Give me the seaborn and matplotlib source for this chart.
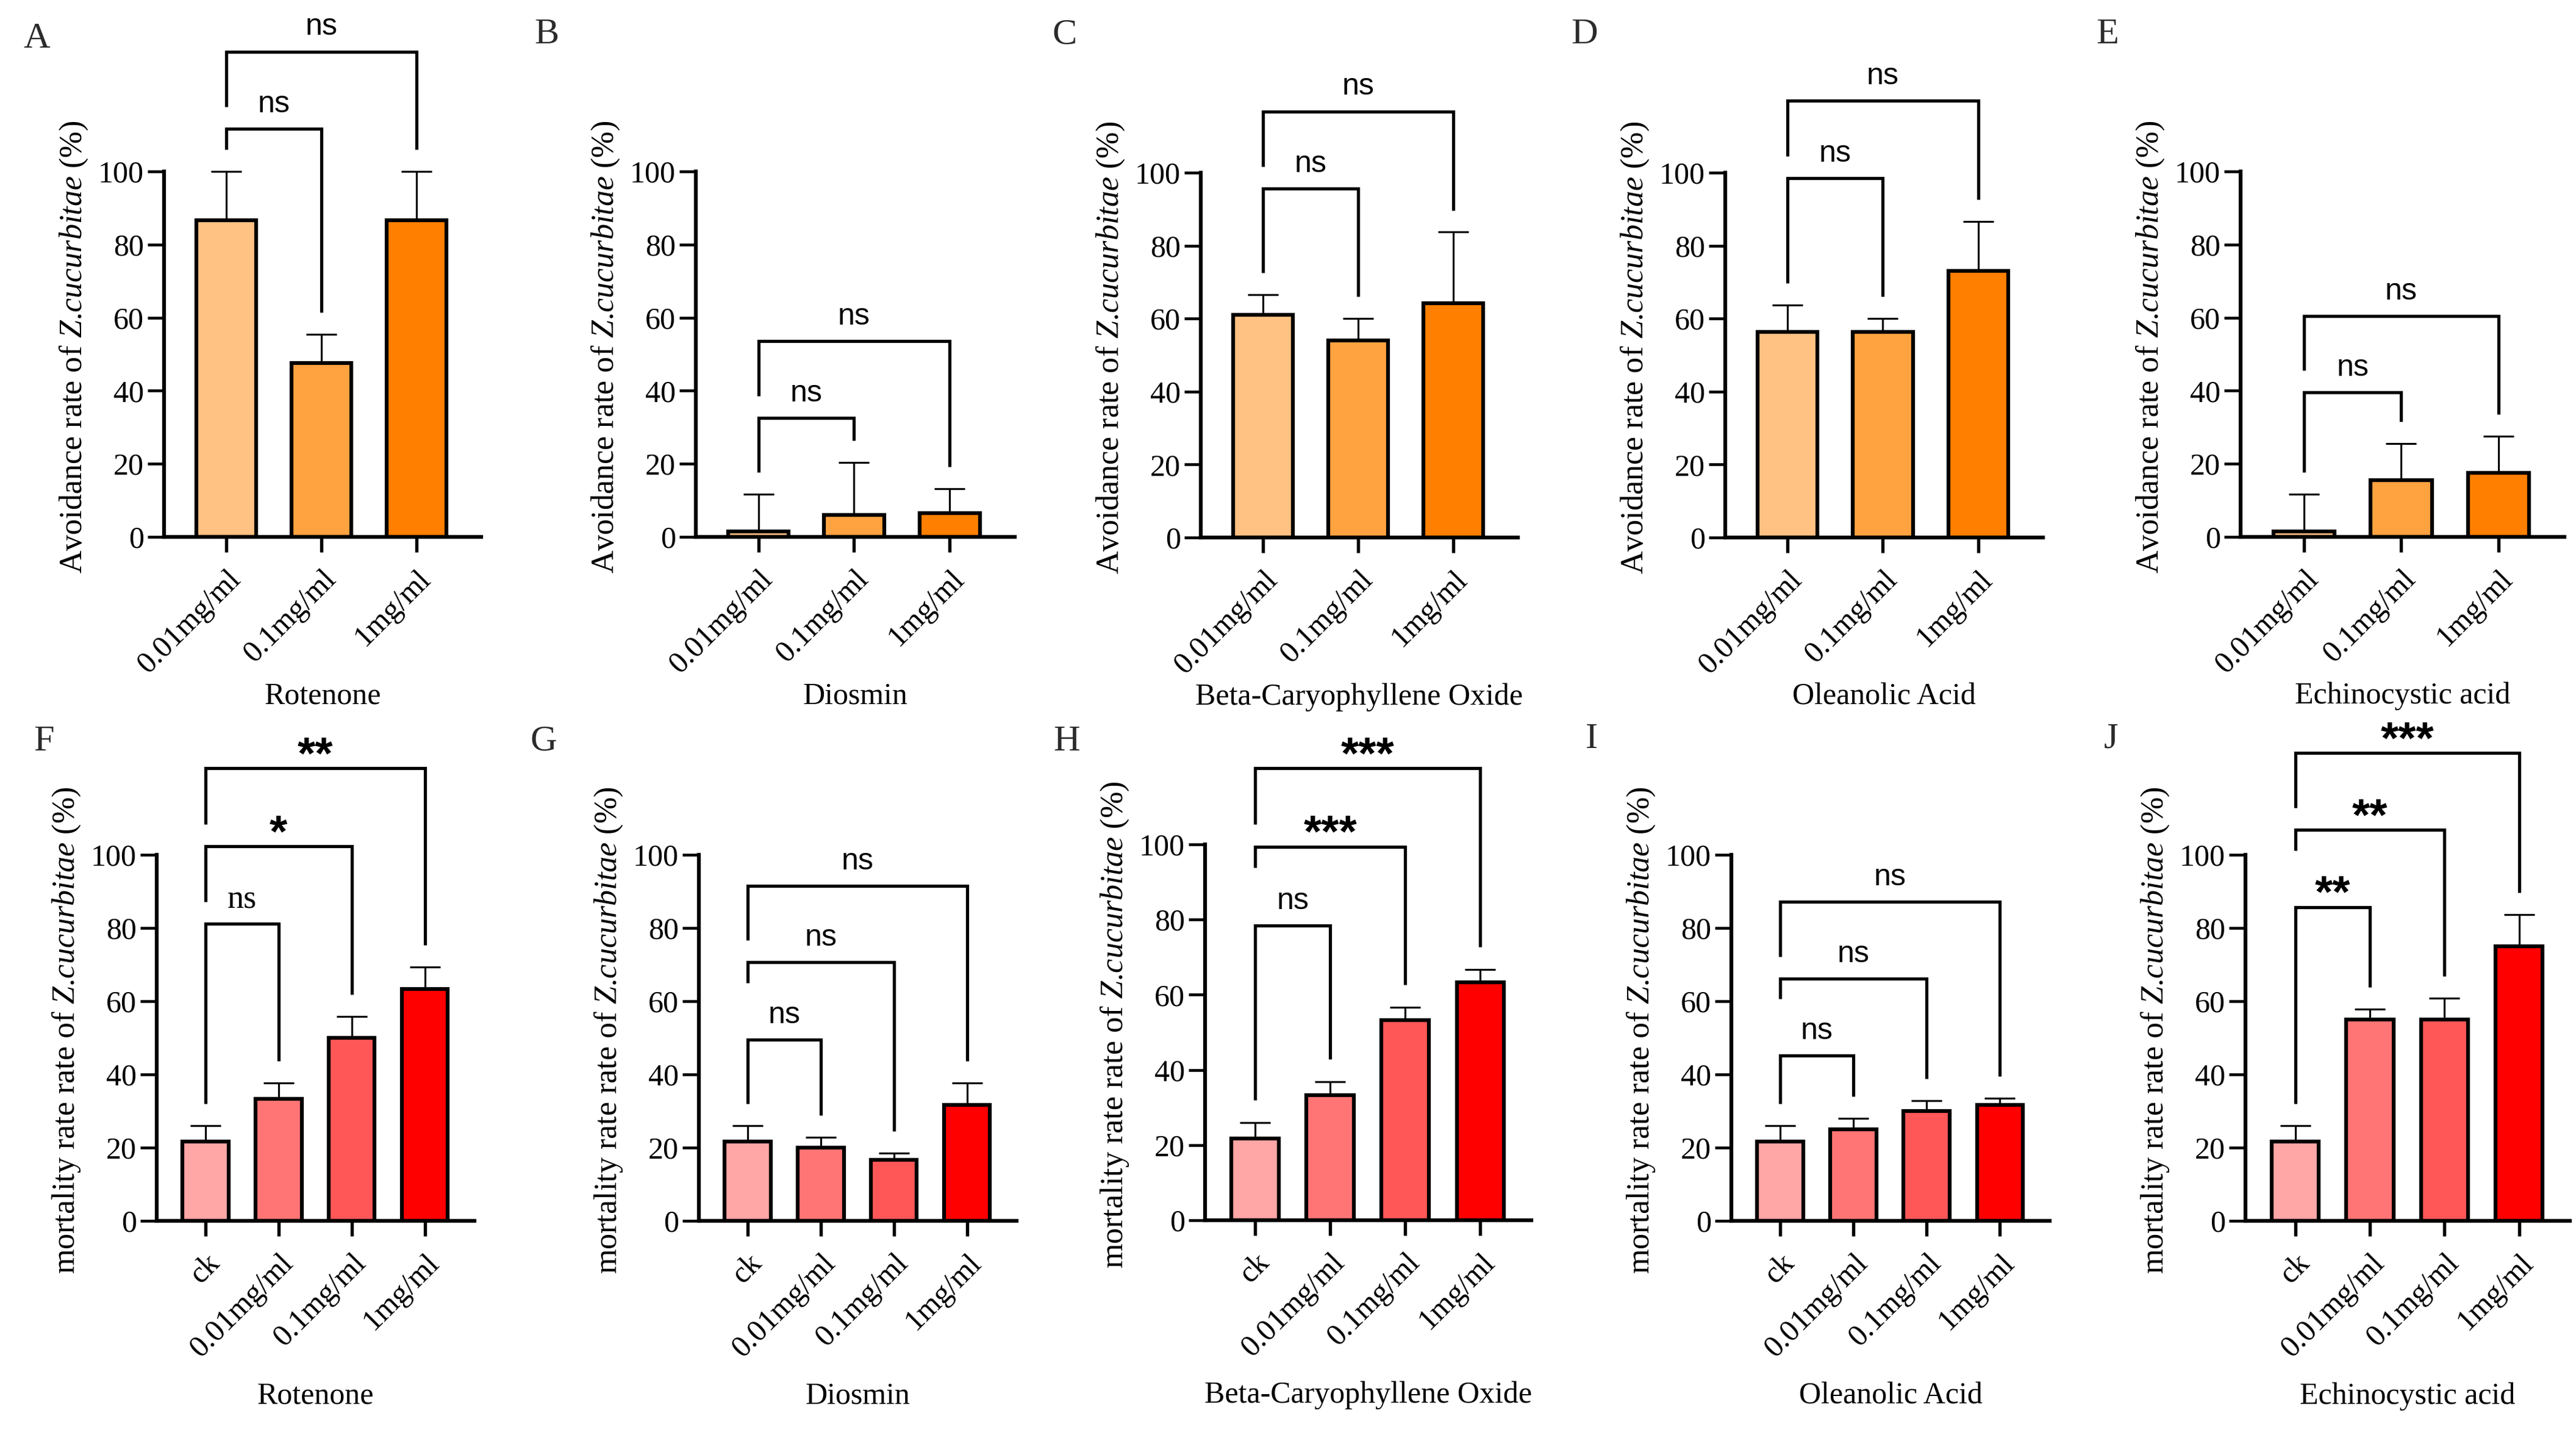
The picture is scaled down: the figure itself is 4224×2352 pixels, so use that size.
from matplotlib import pyplot as plt
import numpy as np
import pandas as pd
import seaborn as sns

# values
compounds = ['Rotenone', 'Diosmin', 'Beta-Caryophyllene Oxide', 'Oleanolic Acid', 'Echinocystic acid']
avoid_doses = ['0.01mg/ml', '0.1mg/ml', '1mg/ml']
mort_doses = ['ck', '0.01mg/ml', '0.1mg/ml', '1mg/ml']

avoid_mean = [[86.7, 47.5, 86.7],
              [1.5, 6.0, 6.5],
              [61.0, 54.0, 64.2],
              [56.4, 56.4, 73.0],
              [1.5, 15.5, 17.5]]
avoid_err = [[13.3, 8.0, 13.3],
             [10.2, 14.4, 6.7],
             [5.5, 6.0, 19.5],
             [7.3, 3.6, 13.7],
             [10.2, 10.0, 10.0]]
avoid_sig = [['ns', 'ns'], ['ns', 'ns'], ['ns', 'ns'], ['ns', 'ns'], ['ns', 'ns']]

mort_mean = [[21.7, 33.3, 50.0, 63.3],
             [21.7, 20.0, 16.7, 31.7],
             [21.7, 33.3, 53.3, 63.3],
             [21.7, 25.0, 30.0, 31.7],
             [21.7, 55.0, 55.0, 75.0]]
mort_err = [[4.3, 4.4, 5.8, 6.0],
            [4.3, 2.9, 1.8, 6.0],
            [4.3, 3.5, 3.4, 3.4],
            [4.3, 3.0, 2.8, 1.8],
            [4.3, 2.9, 5.8, 8.6]]
mort_sig = [['ns', '*', '**'],
            ['ns', 'ns', 'ns'],
            ['ns', '***', '***'],
            ['ns', 'ns', 'ns'],
            ['**', '**', '***']]

# layout (pixels of the 4224x2352 canvas) and bracket heights (data units)
W, H = 4224, 2352
top_x = [(269, 789), (1141, 1664), (1969, 2489), (2829, 3350), (3674, 4205)]
top_y = [(281, 880), (281, 880), (283, 881), (283, 881), (281, 880)]
bot_x = [(257, 778), (1146, 1667), (1976, 2511), (2839, 3361), (3682, 4214)]
bot_y = [(1401, 2001), (1401, 2001), (1384, 2000), (1401, 2001), (1401, 2001)]
top_letters = [('A', 38, 37), ('B', 876, 30), ('C', 1726, 30), ('D', 2576, 30), ('E', 3437, 30)]
bot_letters = [('F', 55, 1189), ('G', 869, 1189), ('H', 1727, 1189), ('I', 2600, 1185), ('J', 3450, 1185)]

avoid_lines = [[111.7, 132.8], [32.6, 53.6], [95.7, 116.8], [98.5, 119.7], [39.5, 60.4]]
mort_lines = [[81.1, 102.3, 123.6], [49.5, 70.6, 91.5], [78.4, 99.4, 120.3],
              [45.1, 66.2, 87.1], [85.7, 106.8, 127.8]]
mort_left_extra = [[0, 0, 0], [0, 9.5, 0], [0, 9.5, 0], [0, 9.5, 0], [0, 9.5, 0]]

avoid_colors = ['#FFC283', '#FFA340', '#FF8000']
mort_colors = ['#FFA6A6', '#FF7575', '#FF5757', '#FF0000']

SERIF = ['Liberation Serif', 'DejaVu Serif']
SANS = ['Liberation Sans', 'DejaVu Sans']
LW = 1.5


def draw_panel(ax, doses, means, errs, colors, sigs, lines, left_extra,
               xlabel, ylabel, xlim, px_w, px_h, serif_ns=False):
    n = len(means)
    df = pd.DataFrame({'dose': doses, 'value': means})
    sns.barplot(data=df, x='dose', y='value', hue='dose', palette=colors, legend=False,
                ax=ax, width=0.63, edgecolor='black', linewidth=LW, errorbar=None,
                saturation=1, zorder=2)
    ax.errorbar(np.arange(n), means, yerr=[np.zeros(n), errs], fmt='none', ecolor='black',
                elinewidth=0.75, capsize=6, capthick=0.75, zorder=3, clip_on=False)

    # significance brackets
    tops = [m + e for m, e in zip(means, errs)]
    gap = 6
    prev = None
    for k, (label, y) in enumerate(zip(sigs, lines)):
        j = k + 1
        left_bottom = tops[0] + gap if prev is None else prev + gap + left_extra[k]
        right_bottom = tops[j] + gap
        ax.plot([0, 0, j, j], [left_bottom, y, y, right_bottom], color='black', lw=1.25,
                clip_on=False, solid_joinstyle='miter', solid_capstyle='butt', zorder=4)
        if label == 'ns':
            fam, size, weight, off = (SERIF, 13, 'normal', 6.3) if (serif_ns and k == 0) \
                else (SANS, 12, 'normal', 6.5)
        else:
            fam, size, weight, off = SANS, 18, 'bold', 0
        ax.annotate(label, xy=(j / 2, y), xytext=(0, off), textcoords='offset points',
                    ha='center', va='baseline', fontsize=size, family=fam,
                    fontweight=weight, annotation_clip=False)
        prev = y

    ax.set_ylim(0, 100)
    ax.set_xlim(*xlim)
    ax.set_yticks(range(0, 101, 20))
    for pos in ['right', 'top']:
        ax.spines[pos].set_visible(False)
    for pos in ['left', 'bottom']:
        ax.spines[pos].set_linewidth(LW)
    ax.tick_params(axis='y', length=6.5, width=1.1, pad=1.5, labelsize=12)
    ax.tick_params(axis='x', length=6, width=1.3, pad=5, labelsize=12)
    for lab in ax.get_xticklabels():
        lab.set_rotation(45)
        lab.set_ha('right')
        lab.set_va('top')
        lab.set_rotation_mode('anchor')

    ax.set_xlabel(xlabel, fontsize=12)
    ax.set_ylabel(ylabel, fontsize=12.5)
    ax.xaxis.set_label_coords(0.5, -(238 if n == 3 else 264) / px_h)
    ax.yaxis.set_label_coords(-148 / px_w, 0.52)
    ax.yaxis.label.set_va('center')


def add_axes(fig, xs, ys):
    (l, r), (t, b) = xs, ys
    return fig.add_axes([l / W, (H - b) / H, (r - l) / W, (b - t) / H]), r - l, b - t


if __name__ == "__main__":
    sns.set_style('ticks')
    plt.rcParams['font.family'] = SERIF
    plt.rcParams['mathtext.fontset'] = 'custom'
    plt.rcParams['mathtext.rm'] = 'Liberation Serif'
    plt.rcParams['mathtext.it'] = 'Liberation Serif:italic'
    plt.rcParams['axes.edgecolor'] = 'black'
    plt.rcParams['xtick.color'] = 'black'
    plt.rcParams['ytick.color'] = 'black'
    plt.rcParams['text.color'] = 'black'
    plt.rcParams['axes.labelcolor'] = 'black'

    fig = plt.figure(figsize=(W / 300, H / 300), dpi=300)
    fig.patch.set_facecolor('white')

    # the dot sits outside mathtext so no punctuation space is added after it
    avoid_label = r'Avoidance rate of $\mathit{Z}$.$\mathit{cucurbitae}$ (%)'
    mort_label = r'mortality rate rate of $\mathit{Z}$.$\mathit{cucurbitae}$ (%)'

    for i in range(5):
        ax, pw, ph = add_axes(fig, top_x[i], top_y[i])
        draw_panel(ax, avoid_doses, avoid_mean[i], avoid_err[i], avoid_colors, avoid_sig[i],
                   avoid_lines[i], [0, 0], compounds[i], avoid_label, (-0.654, 2.68), pw, ph)
        ax, pw, ph = add_axes(fig, bot_x[i], bot_y[i])
        draw_panel(ax, mort_doses, mort_mean[i], mort_err[i], mort_colors, mort_sig[i],
                   mort_lines[i], mort_left_extra[i], compounds[i], mort_label,
                   (-0.667, 3.68), pw, ph, serif_ns=(i == 0))

    for letter, x, y in top_letters + bot_letters:
        fig.text(x / W, 1 - y / H, letter, ha='left', va='top', fontsize=14.5,
                 family=SERIF, color='#2b2b2b')

    fig.savefig('out.png', dpi=300, facecolor='white')
